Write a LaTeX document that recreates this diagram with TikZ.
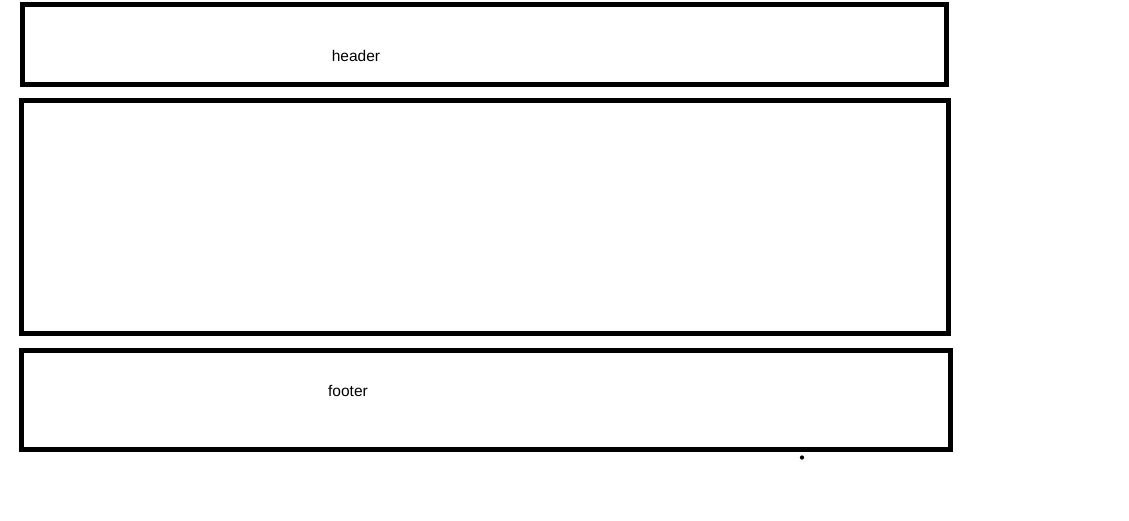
\documentclass[tikz,border=0pt]{standalone}
\usepackage{fontspec}
\setmainfont{Liberation Sans}
\begin{document}
\begin{tikzpicture}[x=1pt,y=-1pt,line join=miter]
			\tikzset{frame/.style={draw,line width=5pt,inner sep=0pt,outer sep=0pt},
				label text/.style={font=\fontsize{15.5}{18}\selectfont,inner sep=0pt}}
			\useasboundingbox (0,0) rectangle (1129,520);
			\node[frame,minimum width=924pt,minimum height=80pt] (header) at (484.5,44) {};
			\node[frame,minimum width=927pt,minimum height=233pt] (content) at (485,216.5) {};
			\node[frame,minimum width=929pt,minimum height=99pt] (footer) at (486,400) {};
			\node[label text] (headertext) at (356,56) {header};
			\node[label text] (footertext) at (348,390.5) {footer};
			\node[circle,fill,inner sep=1.5pt] (spot) at (802,457.5) {};
		\end{tikzpicture}
\end{document}
